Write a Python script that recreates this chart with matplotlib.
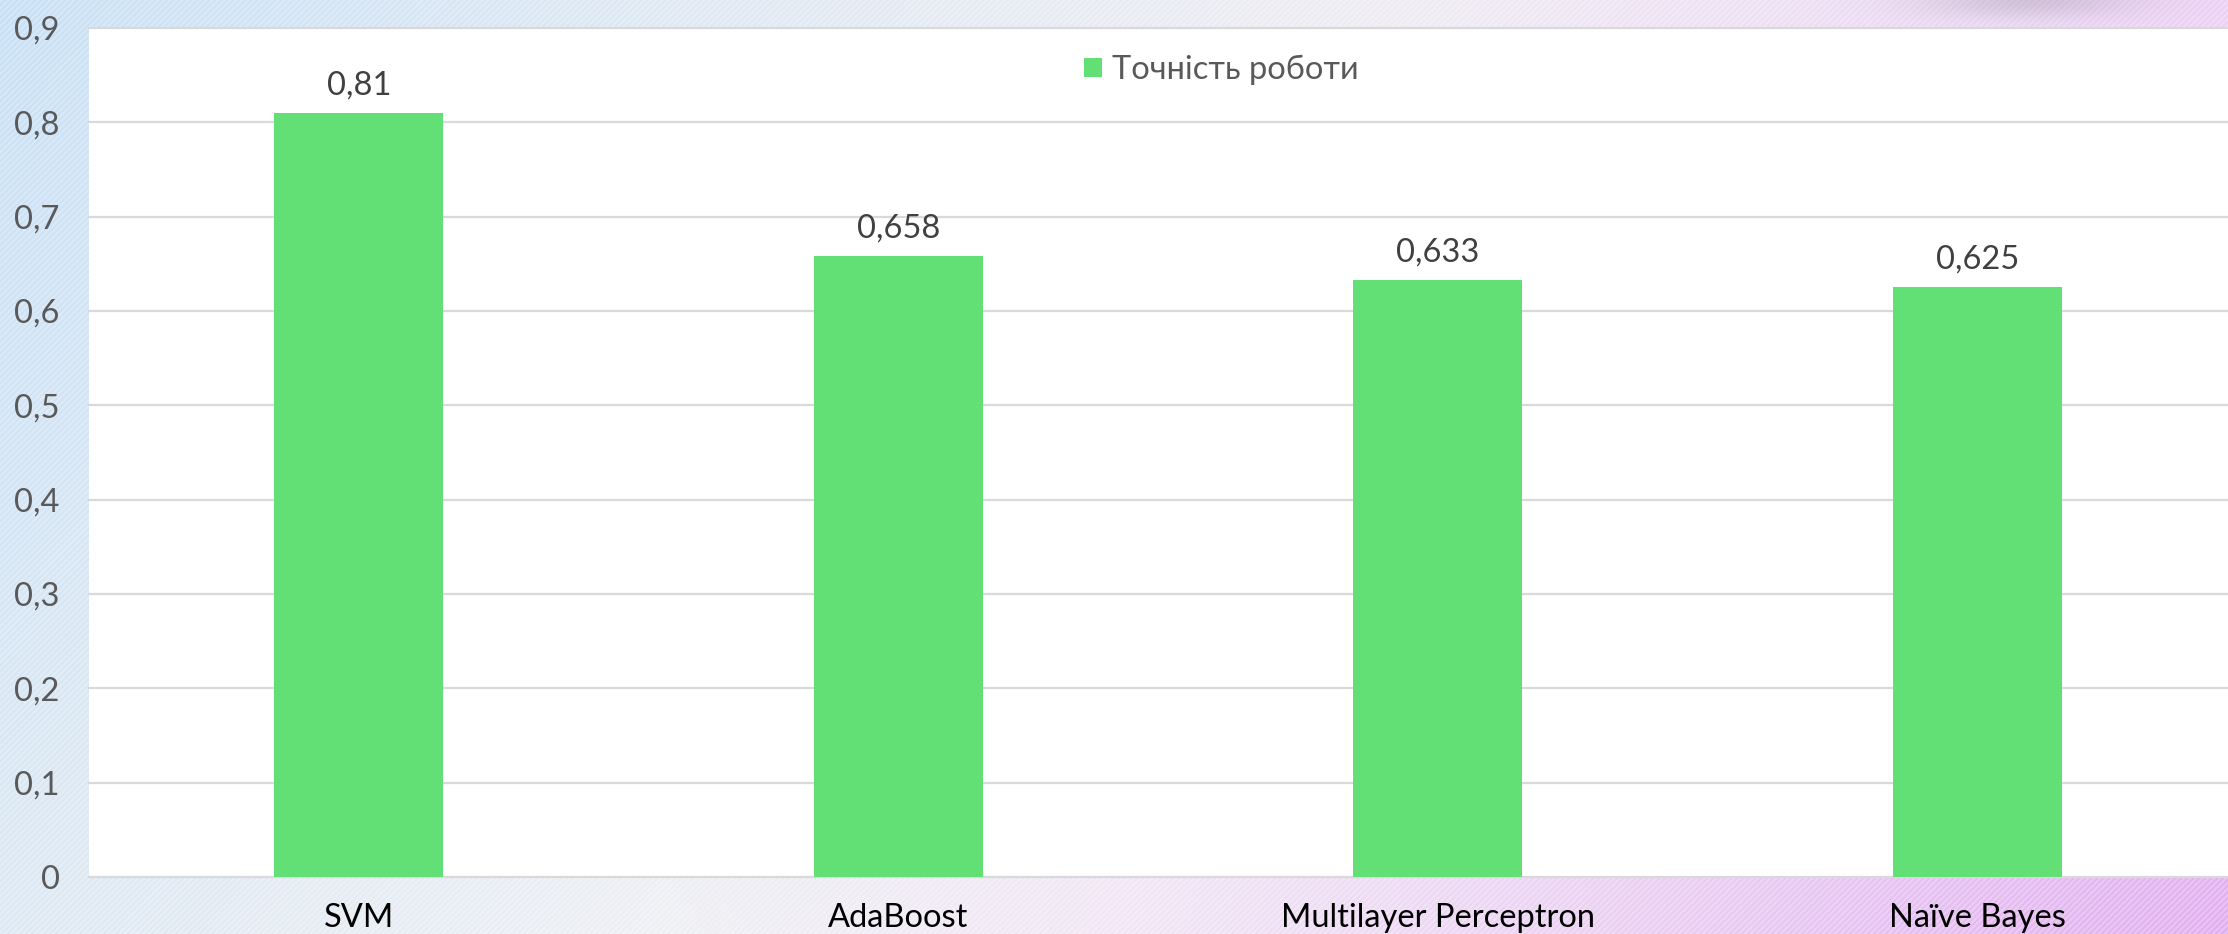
import numpy as np
import matplotlib
matplotlib.use("Agg")
import matplotlib.pyplot as plt
from matplotlib.ticker import FixedLocator, FixedFormatter

plt.rcParams['font.family'] = ['Lato', 'DejaVu Sans']

# chart data
models = ["SVM", "AdaBoost", "Multilayer Perceptron", "Naïve Bayes"]
accuracy = [0.81, 0.658, 0.633, 0.625]
series_name = "Точність роботи"
y_ticks = [0, 0.1, 0.2, 0.3, 0.4, 0.5, 0.6, 0.7, 0.8, 0.9]
y_tick_labels = ["0", "0,1", "0,2", "0,3", "0,4", "0,5", "0,6", "0,7", "0,8", "0,9"]

W, H = 2228, 934
bar_color = "#62df75"
grid_color = "#d9d9d9"


def lerp_stops(u, stops):
    """piecewise linear colour ramp, stops = [(pos, (r,g,b)), ...]"""
    pos = np.array([s[0] for s in stops])
    cols = np.array([s[1] for s in stops], dtype=float)
    return np.stack([np.interp(u, pos, cols[:, k]) for k in range(3)], axis=-1)


def background():
    """striped blue -> lilac gradient behind the chart"""
    yy, xx = np.mgrid[0:H, 0:W].astype(float)
    u = xx[0] / W
    top = lerp_stops(u, [(0, (198, 223, 245)), (0.3, (222, 232, 243)),
                         (0.62, (238, 236, 242)), (1, (236, 208, 246))])
    bot = lerp_stops(u, [(0, (220, 232, 243)), (0.3, (238, 239, 243)),
                         (0.5, (241, 230, 245)), (0.75, (233, 203, 242)),
                         (1, (224, 172, 240))])
    v = (yy / H)[..., None]
    img = top[None, :, :] * (1 - v) + bot[None, :, :] * v
    # fine diagonal stripes
    stripe = 0.5 + 0.5 * np.sin((xx + yy) * 2 * np.pi / 6.0)
    img = img + (255 - img) * 0.3 * stripe[..., None]
    # soft shadow along the top edge
    shade = np.exp(-((xx - 2030) / 110) ** 2 - (yy / 18) ** 2)
    img = img * (1 - 0.12 * shade[..., None])
    return np.clip(img, 0, 255).astype(np.uint8)


fig = plt.figure(figsize=(W / 100, H / 100), dpi=100)
fig.figimage(background(), xo=0, yo=0, origin="upper", zorder=0)

left_px, top_px, base_px = 89, 28, 877
ax = fig.add_axes([left_px / W, 1 - base_px / H, (W - left_px) / W, (base_px - top_px) / H])
ax.set_zorder(1)
ax.set_facecolor("white")

x = np.arange(len(models))
bars = ax.bar(x, accuracy, width=0.313, color=bar_color, label=series_name, zorder=3)

ax.set_ylim(0, 0.9)
ax.set_xlim(-0.5, -0.5 + (W - left_px) / 539.5)

ax.yaxis.set_major_locator(FixedLocator(y_ticks))
ax.yaxis.set_major_formatter(FixedFormatter(y_tick_labels))
ax.set_xticks(x)
ax.set_xticklabels(models, fontsize=23.5, color="black")
ax.tick_params(axis="y", length=0, pad=21, labelsize=23.5, labelcolor="#595959")
ax.tick_params(axis="x", length=0, pad=19)

for s in ax.spines.values():
    s.set_visible(False)
ax.yaxis.grid(True, color=grid_color, linewidth=1.6, zorder=1)
ax.set_axisbelow(True)
for gl in ax.get_ygridlines():
    gl.set_clip_on(False)

ax.bar_label(bars, labels=[str(v).replace(".", ",") for v in accuracy],
             padding=9, fontsize=23.5, color="#404040")

ax.legend(loc="center", bbox_to_anchor=(1221 / W, 1 - 70 / H), bbox_transform=fig.transFigure,
          frameon=False, fontsize=23.5, labelcolor="#595959",
          handlelength=0.55, handleheight=0.55, handletextpad=0.3)

fig.savefig("out.png", dpi=100)
